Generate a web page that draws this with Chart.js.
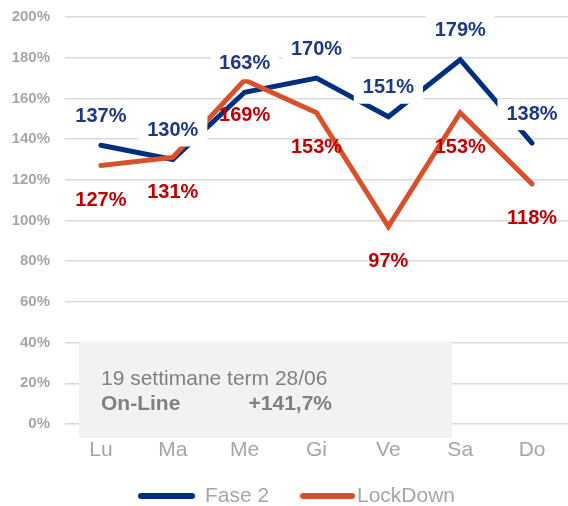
<!DOCTYPE html>
<html>
<head>
<meta charset="utf-8">
<script src="https://cdn.jsdelivr.net/npm/chart.js@4"></script>
<style>
  html, body { margin: 0; padding: 0; background: #fff; }
  #wrap { width: 568px; height: 506px; }
</style>
</head>
<body>
<div id="wrap"><canvas id="chart"></canvas></div>
<script>
const days = ['Lu', 'Ma', 'Me', 'Gi', 'Ve', 'Sa', 'Do']
const fase2 = [137, 130, 163, 170, 151, 179, 138]
const lockdown = [127, 131, 169, 153, 97, 153, 118]
const yTicks = [0, 20, 40, 60, 80, 100, 120, 140, 160, 180, 200]
const boxLines = ['19 settimane term 28/06', 'On-Line', '+141,7%']

const FONT = '"Liberation Sans", Arial, sans-serif'
const BLUE = '#012f7f'
const ORANGE = '#d8512d'
const GREY = '#a6a6a6'

// etichette dei valori (sopra il blu con fondo bianco, sotto per il rosso)
const valueLabels = {
  id: 'valueLabels',
  afterDatasetsDraw(chart) {
    const ctx = chart.ctx
    ctx.save()
    ctx.font = 'bold 20px ' + FONT
    ctx.textAlign = 'center'
    ctx.textBaseline = 'middle'
    const blue = chart.getDatasetMeta(0)
    blue.data.forEach((pt, i) => {
      const txt = fase2[i] + '%'
      const w = ctx.measureText(txt).width
      const y = pt.y - 29
      ctx.fillStyle = '#fff'
      ctx.fillRect(pt.x - w / 2 - 9, y - 15, w + 18, 31)
      ctx.fillStyle = '#1d3a80'
      ctx.fillText(txt, pt.x, y)
    })
    const red = chart.getDatasetMeta(1)
    red.data.forEach((pt, i) => {
      ctx.fillStyle = '#c00000'
      ctx.fillText(lockdown[i] + '%', pt.x, pt.y + 35)
    })
    ctx.restore()
  }
}

// riquadro grigio con il testo
const noteBox = {
  id: 'noteBox',
  beforeDatasetsDraw(chart) {
    const ctx = chart.ctx
    const y = chart.scales.y
    const top = y.getPixelForValue(40.5)
    ctx.save()
    ctx.fillStyle = '#f2f2f2'
    ctx.fillRect(79, top, 373, 438 - top)
    ctx.fillStyle = '#808080'
    ctx.textBaseline = 'middle'
    ctx.font = '21px ' + FONT
    ctx.fillText(boxLines[0], 101, 379)
    ctx.font = 'bold 21px ' + FONT
    ctx.fillText(boxLines[1], 101, 404)
    ctx.textAlign = 'right'
    ctx.fillText(boxLines[2], 332, 404)
    ctx.restore()
  }
}

// legenda disegnata a mano
const legendLines = {
  id: 'legendLines',
  afterDraw(chart) {
    const ctx = chart.ctx
    const y = 496
    ctx.save()
    ctx.lineWidth = 6
    ctx.lineCap = 'round'
    ctx.strokeStyle = BLUE
    ctx.beginPath(); ctx.moveTo(141, y); ctx.lineTo(192, y); ctx.stroke()
    ctx.strokeStyle = ORANGE
    ctx.beginPath(); ctx.moveTo(303, y); ctx.lineTo(352, y); ctx.stroke()
    ctx.fillStyle = GREY
    ctx.font = '21px ' + FONT
    ctx.textBaseline = 'middle'
    ctx.fillText('Fase 2', 205, y)
    ctx.fillText('LockDown', 357, y)
    ctx.restore()
  }
}

const data = {
  labels: days,
  datasets: [
    {
      label: 'Fase 2',
      data: fase2,
      borderColor: BLUE,
      borderWidth: 5,
      borderCapStyle: 'round',
      borderJoinStyle: 'miter',
      pointRadius: 0,
      tension: 0,
      order: 1
    },
    {
      label: 'LockDown',
      data: lockdown,
      borderColor: ORANGE,
      borderWidth: 5,
      borderCapStyle: 'round',
      borderJoinStyle: 'miter',
      pointRadius: 0,
      tension: 0,
      order: 0
    }
  ]
}

const options = {
  responsive: true,
  maintainAspectRatio: false,
  animation: false,
  layout: { padding: { top: 17, right: 0, bottom: 0, left: 0 } },
  plugins: {
    legend: { display: false },
    tooltip: { enabled: false }
  },
  scales: {
    x: {
      offset: true,
      grid: { display: false },
      border: { display: false },
      ticks: { color: GREY, font: { family: FONT, size: 21 }, padding: 6 },
      afterFit: s => { s.height = 82; s.paddingLeft = 0; s.paddingRight = 0 }
    },
    y: {
      min: 0,
      max: 200,
      afterBuildTicks: s => { s.ticks = yTicks.map(v => ({ value: v })) },
      grid: { color: '#d9d9d9', lineWidth: 1.5, drawTicks: false },
      border: { display: false },
      ticks: {
        color: GREY,
        font: { family: FONT, size: 15, weight: 'bold' },
        padding: 15,
        callback: v => v + '%'
      },
      afterFit: s => { s.width = 65; s.paddingTop = 0; s.paddingBottom = 0 }
    }
  }
}

new Chart('chart', { type: 'line', data, options, plugins: [noteBox, valueLabels, legendLines] })
</script>
</body>
</html>
